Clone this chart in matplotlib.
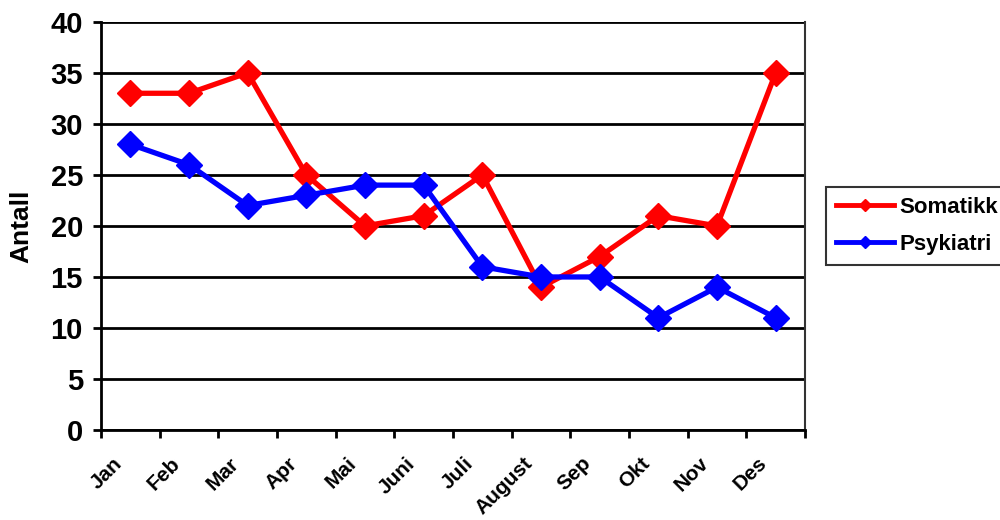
import matplotlib
matplotlib.use("Agg")
import matplotlib.pyplot as plt
import matplotlib.transforms as mtransforms
import numpy as np

months = ["Jan", "Feb", "Mar", "Apr", "Mai", "Juni", "Juli", "August", "Sep", "Okt", "Nov", "Des"]
somatikk = [33, 33, 35, 25, 20, 21, 25, 14, 17, 21, 20, 35]
psykiatri = [28, 26, 22, 23, 24, 24, 16, 15, 15, 11, 14, 11]
yticks = [0, 5, 10, 15, 20, 25, 30, 35, 40]

plt.rcParams['font.family'] = ['Liberation Sans', 'DejaVu Sans']

fig = plt.figure(figsize=(10, 5.2), dpi=100)
ax = fig.add_axes([0.101, 0.173, 0.704, 0.785])

x = np.arange(len(months))
l1, = ax.plot(x, somatikk, color='#ff0000', lw=3.8, marker='D', ms=13, mew=1,
              mec='#ff0000', mfc='#ff0000', zorder=3, label='Somatikk')
l2, = ax.plot(x, psykiatri, color='#0000ff', lw=3.8, marker='D', ms=13, mew=1,
              mec='#0000ff', mfc='#0000ff', zorder=3, label='Psykiatri')

ax.set_xlim(-0.5, len(months) - 0.5)
ax.set_ylim(0, 40)
ax.set_yticks(yticks)
ax.yaxis.grid(True, color='black', lw=2)
ax.set_axisbelow(True)

ax.set_xticks(x)
ax.set_xticklabels(months, rotation=45, ha='right', va='top', fontsize=15, fontweight='bold')
ax.set_xticks(np.arange(-0.5, len(months)), minor=True)
ax.tick_params(axis='x', which='major', length=0, pad=17)
ax.tick_params(axis='x', which='minor', length=6, width=2, direction='out')
offset = mtransforms.ScaledTranslation(-0.05, 0, fig.dpi_scale_trans)
for lab in ax.get_xticklabels():
    lab.set_transform(lab.get_transform() + offset)

ax.tick_params(axis='y', length=6, width=2, labelsize=21, pad=7)
for lab in ax.get_yticklabels():
    lab.set_fontweight('bold')

for s in ['left', 'bottom']:
    ax.spines[s].set_linewidth(2)
ax.spines['top'].set_visible(False)
ax.spines['right'].set_color('#333333')
ax.spines['right'].set_linewidth(1.5)

ax.set_ylabel('Antall', fontsize=19, fontweight='bold', labelpad=12)

leg = fig.legend(handles=[l1, l2], loc='upper left', bbox_to_anchor=(0.826, 1 - 187 / 520),
                 frameon=True, fancybox=False, edgecolor='black',
                 prop={'weight': 'bold', 'size': 16}, handlelength=2.6, markerscale=0.5,
                 borderpad=0.45, labelspacing=0.7, handletextpad=0.25, borderaxespad=0)
leg.get_frame().set_linewidth(1.5)
for h in leg.legend_handles:
    h.set_linewidth(3.5)

fig.savefig('out.png', dpi=100)
